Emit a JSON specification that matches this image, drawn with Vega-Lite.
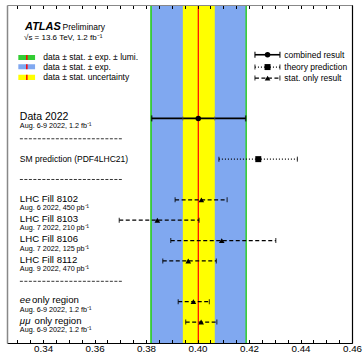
{
  "$schema": "https://vega.github.io/schema/vega-lite/v6.json",
  "width": 345,
  "height": 338,
  "autosize": {"type": "none"},
  "padding": {"left": 7, "top": 5, "right": 11, "bottom": 10},
  "config": {"view": {"stroke": null}, "font": "Liberation Sans"},
  "datasets": {
    "bands": [
      {"c": "g", "lo": 0.3816, "hi": 0.4192},
      {"c": "b", "lo": 0.3823, "hi": 0.4186},
      {"c": "y", "lo": 0.3943, "hi": 0.4067}
    ],
    "swatches": [
      {"c": "g", "y1": 2.456, "y2": 2.701},
      {"c": "b", "y1": 2.913, "y2": 3.158},
      {"c": "y", "y1": 3.423, "y2": 3.684}
    ],
    "combined": [
      {"row": 5.57, "v": 0.4003, "lo": 0.3822, "hi": 0.4187},
      {"row": 2.443, "v": 0.4272, "lo": 0.4223, "hi": 0.432}
    ],
    "inner": [
      {"row": 5.57, "x": 0.3943},
      {"row": 5.57, "x": 0.4067}
    ],
    "theory": [
      {"row": 7.57, "v": 0.4236, "lo": 0.4083, "hi": 0.4388},
      {"row": 3.048, "v": 0.4272, "lo": 0.4223, "hi": 0.432}
    ],
    "stat": [
      {"row": 9.57, "v": 0.4015, "lo": 0.3913, "hi": 0.4115},
      {"row": 10.57, "v": 0.3844, "lo": 0.3696, "hi": 0.4006},
      {"row": 11.57, "v": 0.4094, "lo": 0.3896, "hi": 0.4304},
      {"row": 12.57, "v": 0.3964, "lo": 0.3865, "hi": 0.4073},
      {"row": 14.57, "v": 0.3984, "lo": 0.3925, "hi": 0.4046},
      {"row": 15.57, "v": 0.4014, "lo": 0.3954, "hi": 0.4075},
      {"row": 3.589, "v": 0.4272, "lo": 0.4223, "hi": 0.432}
    ],
    "separators": [{"row": 6.57}, {"row": 8.57}, {"row": 13.57}],
    "legLeft": [
      {"t": "data ± stat. ± exp. ± lumi.", "row": 2.57},
      {"t": "data ± stat. ± exp.", "row": 3.045},
      {"t": "data ± stat. uncertainty", "row": 3.55}
    ],
    "legRight": [
      {"t": "combined result", "row": 2.443},
      {"t": "theory prediction", "row": 3.048},
      {"t": "stat. only result", "row": 3.589}
    ],
    "mainBig": [{"t": "Data 2022", "row": 5.57}],
    "mainFills": [
      {"t": "LHC Fill 8102", "row": 9.57},
      {"t": "LHC Fill 8103", "row": 10.57},
      {"t": "LHC Fill 8106", "row": 11.57},
      {"t": "LHC Fill 8112", "row": 12.57}
    ],
    "sm": [{"t": "SM prediction (PDF4LHC21)", "row": 7.57}],
    "subs": [
      {"t": "Aug. 6-9 2022, 1.2 fb⁻¹", "row": 5.57},
      {"t": "Aug. 6 2022, 450 pb⁻¹", "row": 9.57},
      {"t": "Aug. 7 2022, 210 pb⁻¹", "row": 10.57},
      {"t": "Aug. 7 2022, 125 pb⁻¹", "row": 11.57},
      {"t": "Aug. 9 2022, 470 pb⁻¹", "row": 12.57},
      {"t": "Aug. 6-9 2022, 1.2 fb⁻¹", "row": 14.57},
      {"t": "Aug. 6-9 2022, 1.2 fb⁻¹", "row": 15.57}
    ],
    "ital": [
      {"t": "ee", "row": 14.57},
      {"t": "μμ", "row": 15.57}
    ],
    "region": [
      {"t": "only region", "row": 14.57, "x": 0.3357},
      {"t": "only region", "row": 15.57, "x": 0.3367}
    ]
  },
  "layer": [
    {
      "data": {"name": "bands"},
      "mark": {"type": "rect"},
      "encoding": {
        "x": {"field": "lo", "type": "quantitative", "scale": {"domain": [0.326, 0.46], "nice": false, "zero": false}, "axis": null},
        "x2": {"field": "hi"},
        "color": {"field": "c", "type": "nominal", "scale": {"domain": ["g", "b", "y"], "range": ["#33cc33", "#80a8f0", "#ffff00"]}, "legend": null}
      }
    },
    {
      "data": {"name": "swatches"},
      "mark": {"type": "rect"},
      "encoding": {
        "x": {"datum": 0.3304, "type": "quantitative", "scale": {"domain": [0.326, 0.46], "nice": false, "zero": false}, "axis": null},
        "x2": {"datum": 0.3369},
        "y": {"field": "y1", "type": "quantitative", "scale": {"domain": [0, 16.6], "reverse": true, "nice": false, "zero": false}, "axis": null},
        "y2": {"field": "y2"},
        "color": {"field": "c", "type": "nominal", "scale": {"domain": ["g", "b", "y"], "range": ["#33cc33", "#80a8f0", "#ffff00"]}, "legend": null}
      }
    },
    {
      "data": {"name": "swatches"},
      "mark": {"type": "rule", "color": "#ff0000", "strokeWidth": 1.5},
      "encoding": {
        "x": {"datum": 0.3337, "type": "quantitative", "scale": {"domain": [0.326, 0.46], "nice": false, "zero": false}, "axis": null},
        "y": {"field": "y1", "type": "quantitative", "scale": {"domain": [0, 16.6], "reverse": true, "nice": false, "zero": false}, "axis": null},
        "y2": {"field": "y2"}
      }
    },
    {
      "data": {"values": [{"v": 0.4003}]},
      "mark": {"type": "rule", "color": "#ff0000", "strokeWidth": 1.2},
      "encoding": {
        "x": {"field": "v", "type": "quantitative", "scale": {"domain": [0.326, 0.46], "nice": false, "zero": false}, "axis": null}
      }
    },
    {
      "data": {"name": "separators"},
      "mark": {"type": "rule", "color": "black", "strokeWidth": 0.8, "strokeDash": [3, 1.5]},
      "encoding": {
        "x": {"datum": 0.331, "type": "quantitative", "scale": {"domain": [0.326, 0.46], "nice": false, "zero": false}, "axis": null},
        "x2": {"datum": 0.3706},
        "y": {"field": "row", "type": "quantitative", "scale": {"domain": [0, 16.6], "reverse": true, "nice": false, "zero": false}, "axis": null}
      }
    },
    {
      "data": {"name": "combined"},
      "mark": {"type": "rule", "color": "black", "strokeWidth": 1.6},
      "encoding": {
        "x": {"field": "lo", "type": "quantitative", "scale": {"domain": [0.326, 0.46], "nice": false, "zero": false},
          "axis": {"orient": "bottom", "title": null, "grid": false, "zindex": 1,
            "values": [0.33, 0.335, 0.34, 0.345, 0.35, 0.355, 0.36, 0.365, 0.37, 0.375, 0.38, 0.385, 0.39, 0.395, 0.4, 0.405, 0.41, 0.415, 0.42, 0.425, 0.43, 0.435, 0.44, 0.445, 0.45, 0.455, 0.46],
            "labelExpr": "abs(datum.value*50 - round(datum.value*50)) < 0.01 ? format(datum.value, '.2f') : ''",
            "tickSize": -3.5,
            "tickColor": "black", "tickWidth": 1, "domainColor": "black", "domainWidth": 1,
            "labelFontSize": 9.8, "labelColor": "black", "labelFont": "Liberation Sans", "labelPadding": 3.5, "labelFlush": false, "labelOverlap": false}},
        "x2": {"field": "hi"},
        "y": {"field": "row", "type": "quantitative", "scale": {"domain": [0, 16.6], "reverse": true, "nice": false, "zero": false},
          "axis": {"orient": "left", "title": null, "grid": false, "ticks": false, "labels": false, "domainColor": "#888888", "domainWidth": 1.5, "zindex": 1}}
      }
    },
    {
      "data": {"name": "combined"},
      "mark": {"type": "tick", "orient": "vertical", "size": 6, "thickness": 1.5, "color": "black"},
      "encoding": {
        "x": {"field": "lo", "type": "quantitative", "scale": {"domain": [0.326, 0.46], "nice": false, "zero": false}, "axis": null},
        "y": {"field": "row", "type": "quantitative", "scale": {"domain": [0, 16.6], "reverse": true, "nice": false, "zero": false}, "axis": null}
      }
    },
    {
      "data": {"name": "combined"},
      "mark": {"type": "tick", "orient": "vertical", "size": 6, "thickness": 1.5, "color": "black"},
      "encoding": {
        "x": {"field": "hi", "type": "quantitative", "scale": {"domain": [0.326, 0.46], "nice": false, "zero": false}, "axis": null},
        "y": {"field": "row", "type": "quantitative", "scale": {"domain": [0, 16.6], "reverse": true, "nice": false, "zero": false}, "axis": null}
      }
    },
    {
      "data": {"name": "inner"},
      "mark": {"type": "tick", "orient": "vertical", "size": 4, "thickness": 1, "color": "#555555"},
      "encoding": {
        "x": {"field": "x", "type": "quantitative", "scale": {"domain": [0.326, 0.46], "nice": false, "zero": false}, "axis": null},
        "y": {"field": "row", "type": "quantitative", "scale": {"domain": [0, 16.6], "reverse": true, "nice": false, "zero": false}, "axis": null}
      }
    },
    {
      "data": {"name": "combined"},
      "mark": {"type": "point", "shape": "circle", "filled": true, "size": 30, "color": "black", "opacity": 1},
      "encoding": {
        "x": {"field": "v", "type": "quantitative", "scale": {"domain": [0.326, 0.46], "nice": false, "zero": false}, "axis": null},
        "y": {"field": "row", "type": "quantitative", "scale": {"domain": [0, 16.6], "reverse": true, "nice": false, "zero": false}, "axis": null}
      }
    },
    {
      "data": {"name": "theory"},
      "mark": {"type": "rule", "color": "black", "strokeWidth": 1.2, "strokeDash": [1, 2]},
      "encoding": {
        "x": {"field": "lo", "type": "quantitative", "scale": {"domain": [0.326, 0.46], "nice": false, "zero": false},
          "axis": {"orient": "top", "title": null, "grid": false, "zindex": 1, "labels": false,
            "values": [0.33, 0.335, 0.34, 0.345, 0.35, 0.355, 0.36, 0.365, 0.37, 0.375, 0.38, 0.385, 0.39, 0.395, 0.4, 0.405, 0.41, 0.415, 0.42, 0.425, 0.43, 0.435, 0.44, 0.445, 0.45, 0.455, 0.46],
            "tickSize": -3.5,
            "tickColor": "black", "tickWidth": 1, "domainColor": "#888888", "domainWidth": 1.2}},
        "x2": {"field": "hi"},
        "y": {"field": "row", "type": "quantitative", "scale": {"domain": [0, 16.6], "reverse": true, "nice": false, "zero": false},
          "axis": {"orient": "right", "title": null, "grid": false, "ticks": false, "labels": false, "domainColor": "black", "domainWidth": 1.2, "zindex": 1}}
      }
    },
    {
      "data": {"name": "theory"},
      "mark": {"type": "tick", "orient": "vertical", "size": 5, "thickness": 1.2, "color": "black"},
      "encoding": {
        "x": {"field": "lo", "type": "quantitative", "scale": {"domain": [0.326, 0.46], "nice": false, "zero": false}, "axis": null},
        "y": {"field": "row", "type": "quantitative", "scale": {"domain": [0, 16.6], "reverse": true, "nice": false, "zero": false}, "axis": null}
      }
    },
    {
      "data": {"name": "theory"},
      "mark": {"type": "tick", "orient": "vertical", "size": 5, "thickness": 1.2, "color": "black"},
      "encoding": {
        "x": {"field": "hi", "type": "quantitative", "scale": {"domain": [0.326, 0.46], "nice": false, "zero": false}, "axis": null},
        "y": {"field": "row", "type": "quantitative", "scale": {"domain": [0, 16.6], "reverse": true, "nice": false, "zero": false}, "axis": null}
      }
    },
    {
      "data": {"name": "theory"},
      "mark": {"type": "point", "shape": "square", "filled": true, "size": 36, "color": "black", "opacity": 1},
      "encoding": {
        "x": {"field": "v", "type": "quantitative", "scale": {"domain": [0.326, 0.46], "nice": false, "zero": false}, "axis": null},
        "y": {"field": "row", "type": "quantitative", "scale": {"domain": [0, 16.6], "reverse": true, "nice": false, "zero": false}, "axis": null}
      }
    },
    {
      "data": {"name": "stat"},
      "mark": {"type": "rule", "color": "black", "strokeWidth": 1.2, "strokeDash": [4, 2.5]},
      "encoding": {
        "x": {"field": "lo", "type": "quantitative", "scale": {"domain": [0.326, 0.46], "nice": false, "zero": false}, "axis": null},
        "x2": {"field": "hi"},
        "y": {"field": "row", "type": "quantitative", "scale": {"domain": [0, 16.6], "reverse": true, "nice": false, "zero": false}, "axis": null}
      }
    },
    {
      "data": {"name": "stat"},
      "mark": {"type": "tick", "orient": "vertical", "size": 5, "thickness": 1.2, "color": "black"},
      "encoding": {
        "x": {"field": "lo", "type": "quantitative", "scale": {"domain": [0.326, 0.46], "nice": false, "zero": false}, "axis": null},
        "y": {"field": "row", "type": "quantitative", "scale": {"domain": [0, 16.6], "reverse": true, "nice": false, "zero": false}, "axis": null}
      }
    },
    {
      "data": {"name": "stat"},
      "mark": {"type": "tick", "orient": "vertical", "size": 5, "thickness": 1.2, "color": "black"},
      "encoding": {
        "x": {"field": "hi", "type": "quantitative", "scale": {"domain": [0.326, 0.46], "nice": false, "zero": false}, "axis": null},
        "y": {"field": "row", "type": "quantitative", "scale": {"domain": [0, 16.6], "reverse": true, "nice": false, "zero": false}, "axis": null}
      }
    },
    {
      "data": {"name": "stat"},
      "mark": {"type": "point", "shape": "triangle-up", "filled": true, "size": 32, "color": "black", "opacity": 1},
      "encoding": {
        "x": {"field": "v", "type": "quantitative", "scale": {"domain": [0.326, 0.46], "nice": false, "zero": false}, "axis": null},
        "y": {"field": "row", "type": "quantitative", "scale": {"domain": [0, 16.6], "reverse": true, "nice": false, "zero": false}, "axis": null}
      }
    },
    {
      "data": {"values": [{"t": "ATLAS", "row": 1.08}]},
      "mark": {"type": "text", "align": "left", "baseline": "middle", "font": "Liberation Sans", "fontSize": 11, "fontWeight": "bold", "fontStyle": "italic", "color": "black"},
      "encoding": {
        "x": {"datum": 0.333, "type": "quantitative", "scale": {"domain": [0.326, 0.46], "nice": false, "zero": false}, "axis": null},
        "y": {"field": "row", "type": "quantitative", "scale": {"domain": [0, 16.6], "reverse": true, "nice": false, "zero": false}, "axis": null},
        "text": {"field": "t"}
      }
    },
    {
      "data": {"values": [{"t": "Preliminary", "row": 1.1}]},
      "mark": {"type": "text", "align": "left", "baseline": "middle", "font": "Liberation Sans", "fontSize": 8.5, "color": "black"},
      "encoding": {
        "x": {"datum": 0.3476, "type": "quantitative", "scale": {"domain": [0.326, 0.46], "nice": false, "zero": false}, "axis": null},
        "y": {"field": "row", "type": "quantitative", "scale": {"domain": [0, 16.6], "reverse": true, "nice": false, "zero": false}, "axis": null},
        "text": {"field": "t"}
      }
    },
    {
      "data": {"values": [{"t": "√s = 13.6 TeV, 1.2 fb⁻¹", "row": 1.62}]},
      "mark": {"type": "text", "align": "left", "baseline": "middle", "font": "Liberation Sans", "fontSize": 8, "color": "black"},
      "encoding": {
        "x": {"datum": 0.3326, "type": "quantitative", "scale": {"domain": [0.326, 0.46], "nice": false, "zero": false}, "axis": null},
        "y": {"field": "row", "type": "quantitative", "scale": {"domain": [0, 16.6], "reverse": true, "nice": false, "zero": false}, "axis": null},
        "text": {"field": "t"}
      }
    },
    {
      "data": {"name": "legLeft"},
      "mark": {"type": "text", "align": "left", "baseline": "middle", "font": "Liberation Sans", "fontSize": 8.5, "color": "black"},
      "encoding": {
        "x": {"datum": 0.3401, "type": "quantitative", "scale": {"domain": [0.326, 0.46], "nice": false, "zero": false}, "axis": null},
        "y": {"field": "row", "type": "quantitative", "scale": {"domain": [0, 16.6], "reverse": true, "nice": false, "zero": false}, "axis": null},
        "text": {"field": "t"}
      }
    },
    {
      "data": {"name": "legRight"},
      "mark": {"type": "text", "align": "left", "baseline": "middle", "font": "Liberation Sans", "fontSize": 8.5, "color": "black"},
      "encoding": {
        "x": {"datum": 0.4337, "type": "quantitative", "scale": {"domain": [0.326, 0.46], "nice": false, "zero": false}, "axis": null},
        "y": {"field": "row", "type": "quantitative", "scale": {"domain": [0, 16.6], "reverse": true, "nice": false, "zero": false}, "axis": null},
        "text": {"field": "t"}
      }
    },
    {
      "data": {"name": "mainBig"},
      "mark": {"type": "text", "align": "left", "baseline": "middle", "dy": -1.5, "font": "Liberation Sans", "fontSize": 10.5, "color": "black"},
      "encoding": {
        "x": {"datum": 0.331, "type": "quantitative", "scale": {"domain": [0.326, 0.46], "nice": false, "zero": false}, "axis": null},
        "y": {"field": "row", "type": "quantitative", "scale": {"domain": [0, 16.6], "reverse": true, "nice": false, "zero": false}, "axis": null},
        "text": {"field": "t"}
      }
    },
    {
      "data": {"name": "mainFills"},
      "mark": {"type": "text", "align": "left", "baseline": "middle", "dy": -1.3, "font": "Liberation Sans", "fontSize": 9.6, "color": "black"},
      "encoding": {
        "x": {"datum": 0.331, "type": "quantitative", "scale": {"domain": [0.326, 0.46], "nice": false, "zero": false}, "axis": null},
        "y": {"field": "row", "type": "quantitative", "scale": {"domain": [0, 16.6], "reverse": true, "nice": false, "zero": false}, "axis": null},
        "text": {"field": "t"}
      }
    },
    {
      "data": {"name": "sm"},
      "mark": {"type": "text", "align": "left", "baseline": "middle", "font": "Liberation Sans", "fontSize": 8.5, "color": "black"},
      "encoding": {
        "x": {"datum": 0.331, "type": "quantitative", "scale": {"domain": [0.326, 0.46], "nice": false, "zero": false}, "axis": null},
        "y": {"field": "row", "type": "quantitative", "scale": {"domain": [0, 16.6], "reverse": true, "nice": false, "zero": false}, "axis": null},
        "text": {"field": "t"}
      }
    },
    {
      "data": {"name": "subs"},
      "mark": {"type": "text", "align": "left", "baseline": "middle", "dy": 8, "font": "Liberation Sans", "fontSize": 7.2, "color": "black"},
      "encoding": {
        "x": {"datum": 0.331, "type": "quantitative", "scale": {"domain": [0.326, 0.46], "nice": false, "zero": false}, "axis": null},
        "y": {"field": "row", "type": "quantitative", "scale": {"domain": [0, 16.6], "reverse": true, "nice": false, "zero": false}, "axis": null},
        "text": {"field": "t"}
      }
    },
    {
      "data": {"name": "ital"},
      "mark": {"type": "text", "align": "left", "baseline": "middle", "dy": -1.3, "font": "Liberation Sans", "fontSize": 9.6, "fontStyle": "italic", "color": "black"},
      "encoding": {
        "x": {"datum": 0.331, "type": "quantitative", "scale": {"domain": [0.326, 0.46], "nice": false, "zero": false}, "axis": null},
        "y": {"field": "row", "type": "quantitative", "scale": {"domain": [0, 16.6], "reverse": true, "nice": false, "zero": false}, "axis": null},
        "text": {"field": "t"}
      }
    },
    {
      "data": {"name": "region"},
      "mark": {"type": "text", "align": "left", "baseline": "middle", "dy": -1.3, "font": "Liberation Sans", "fontSize": 9.6, "color": "black"},
      "encoding": {
        "x": {"field": "x", "type": "quantitative", "scale": {"domain": [0.326, 0.46], "nice": false, "zero": false}, "axis": null},
        "y": {"field": "row", "type": "quantitative", "scale": {"domain": [0, 16.6], "reverse": true, "nice": false, "zero": false}, "axis": null},
        "text": {"field": "t"}
      }
    }
  ],
  "resolve": {"axis": {"x": "independent", "y": "independent"}}
}
